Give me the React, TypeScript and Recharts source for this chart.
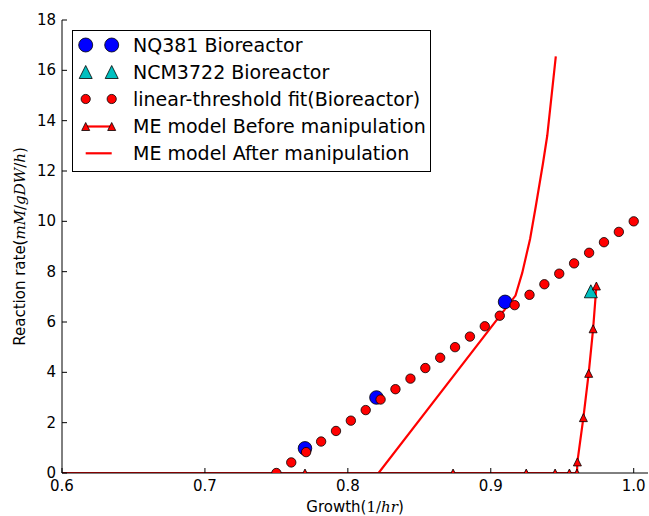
import React from 'react';
import { ComposedChart, Line, Scatter, XAxis, YAxis, Legend } from 'recharts';

// ---- data ----
const xTicks = [0.6, 0.7, 0.8, 0.9, 1.0];
const xTickLabels = ['0.6', '0.7', '0.8', '0.9', '1.0'];
const yTicks = [0, 2, 4, 6, 8, 10, 12, 14, 16, 18];
const yTickLabels = ['0', '2', '4', '6', '8', '10', '12', '14', '16', '18'];

const nq381X = [0.77, 0.82, 0.91];
const nq381Y = [0.98, 3.0, 6.8];

const ncmX = [0.97];
const ncmY = [7.22];

const fitX = [0.75, 0.7604, 0.7708, 0.7813, 0.7917, 0.8021, 0.8125, 0.8229, 0.8333, 0.8438, 0.8542, 0.8646, 0.875,
  0.8854, 0.8958, 0.9063, 0.9167, 0.9271, 0.9375, 0.9479, 0.9583, 0.9688, 0.9792, 0.9896, 1.0];
const fitY = [0, 0.42, 0.83, 1.25, 1.67, 2.08, 2.5, 2.92, 3.33, 3.75, 4.17, 4.58, 5.0,
  5.42, 5.83, 6.25, 6.67, 7.08, 7.5, 7.92, 8.33, 8.75, 9.17, 9.58, 10.0];

const beforeX = [0.77, 0.8736, 0.9248, 0.945, 0.955, 0.9603, 0.9606, 0.9648, 0.9685, 0.9716, 0.9739];
const beforeY = [0, 0, 0, 0, 0, 0, 0.44, 2.2, 3.96, 5.73, 7.43];

const afterX = [0.6, 0.8215, 0.9173, 0.922, 0.9275, 0.9315, 0.9365, 0.9395, 0.9455];
const afterY = [0, 0, 7.05, 7.95, 9.3, 10.6, 12.3, 13.4, 16.55];

const legendLabels = [
  'NQ381 Bioreactor',
  'NCM3722 Bioreactor',
  'linear-threshold fit(Bioreactor)',
  'ME model Before manipulation',
  'ME model After manipulation',
];

const zip = (xs: number[], ys: number[]) => xs.map((x, i) => ({ x, y: ys[i] }));
const nq381Data = zip(nq381X, nq381Y);
const ncmData = zip(ncmX, ncmY);
const fitData = zip(fitX, fitY);
const beforeData = zip(beforeX, beforeY);
const afterData = zip(afterX, afterY);

const RED = '#ff0000';
const BLUE = '#0000ff';
const CYAN = '#00bfbf';
const FONT = '"DejaVu Sans", sans-serif';
const MATH = '"DejaVu Serif", "Liberation Serif", serif';

const tri = (cx: number, cy: number, s: number) => {
  const h = s / 2;
  return `M${cx},${cy - h} L${cx + h},${cy + h} L${cx - h},${cy + h} Z`;
};

const labelFor = (vals: number[], labels: string[], v: number) => {
  const i = vals.findIndex((t) => Math.abs(t - v) < 1e-9);
  return i >= 0 ? labels[i] : String(v);
};

const BottomTick = (p: any) => (
  <g>
    <line x1={p.x} y1={p.y} x2={p.x} y2={p.y - 5} stroke="#000" strokeWidth={1} />
    <text x={p.x} y={p.y + 18} textAnchor="middle" fontFamily={FONT} fontSize={15} fill="#000">
      {labelFor(xTicks, xTickLabels, p.payload.value)}
    </text>
  </g>
);
const TopTick = (p: any) => (
  <line x1={p.x} y1={p.y} x2={p.x} y2={p.y + 5} stroke="#000" strokeWidth={1} />
);
const LeftTick = (p: any) => (
  <g>
    <line x1={p.x} y1={p.y} x2={p.x + 5} y2={p.y} stroke="#000" strokeWidth={1} />
    <text x={p.x - 6} y={p.y + 5} textAnchor="end" fontFamily={FONT} fontSize={15} fill="#000">
      {labelFor(yTicks, yTickLabels, p.payload.value)}
    </text>
  </g>
);
const RightTick = (p: any) => (
  <line x1={p.x} y1={p.y} x2={p.x - 5} y2={p.y} stroke="#000" strokeWidth={1} />
);

const XLabel = (props: any) => {
  const vb = props.viewBox || { x: 62, y: 473, width: 586, height: 43 };
  return (
    <text x={vb.x + vb.width / 2} y={vb.y + 39} textAnchor="middle" fontFamily={FONT} fontSize={15} fill="#000">
      <tspan>Growth(</tspan>
      <tspan fontFamily={MATH}>1/</tspan>
      <tspan fontFamily={MATH} fontStyle="italic">hr</tspan>
      <tspan>)</tspan>
    </text>
  );
};

const YLabel = (props: any) => {
  const vb = props.viewBox || { x: 0, y: 20, width: 62, height: 453 };
  const cx = vb.x + 25;
  const cy = vb.y + vb.height / 2;
  return (
    <text x={cx} y={cy} transform={`rotate(-90 ${cx} ${cy})`} textAnchor="middle" fontFamily={FONT} fontSize={15} fill="#000">
      <tspan>Reaction rate(</tspan>
      <tspan fontFamily={MATH} fontStyle="italic">mM</tspan>
      <tspan fontFamily={MATH}>/</tspan>
      <tspan fontFamily={MATH} fontStyle="italic">gDW</tspan>
      <tspan fontFamily={MATH}>/</tspan>
      <tspan fontFamily={MATH} fontStyle="italic">h</tspan>
      <tspan>)</tspan>
    </text>
  );
};

const LegendBox = () => {
  const rows = [15, 42, 69, 96.5, 123.3];
  const m1 = 13.7;
  const m2 = 39.7;
  const tx = 61;
  return (
    <svg width={360} height={143} style={{ display: 'block' }}>
      <rect x={0.5} y={0.5} width={358} height={141} fill="#fff" stroke="#000" strokeWidth={1} />
      <circle cx={m1} cy={rows[0]} r={7} fill={BLUE} stroke="#000" strokeWidth={0.8} />
      <circle cx={m2} cy={rows[0]} r={7} fill={BLUE} stroke="#000" strokeWidth={0.8} />
      <path d={tri(m1, rows[1], 13)} fill={CYAN} stroke="#000" strokeWidth={0.8} />
      <path d={tri(m2, rows[1], 13)} fill={CYAN} stroke="#000" strokeWidth={0.8} />
      <circle cx={m1} cy={rows[2]} r={4.6} fill={RED} stroke="#000" strokeWidth={0.8} />
      <circle cx={m2} cy={rows[2]} r={4.6} fill={RED} stroke="#000" strokeWidth={0.8} />
      <line x1={m1} y1={rows[3]} x2={m2} y2={rows[3]} stroke={RED} strokeWidth={2.2} />
      <path d={tri(m1, rows[3], 8)} fill={RED} stroke="#000" strokeWidth={0.8} />
      <path d={tri(m2, rows[3], 8)} fill={RED} stroke="#000" strokeWidth={0.8} />
      <line x1={m1} y1={rows[4]} x2={m2} y2={rows[4]} stroke={RED} strokeWidth={2.2} />
      {legendLabels.map((t, i) => (
        <text key={t} x={tx} y={rows[i] + 6.8} fontFamily={FONT} fontSize={19} fill="#000">{t}</text>
      ))}
    </svg>
  );
};

export default function App() {
  return (
    <div style={{ position: 'absolute', left: 0, top: 0, width: 649, height: 516, background: '#fff' }}>
      <ComposedChart width={649} height={516} margin={{ top: 20, right: 1, bottom: 0, left: 0 }}>
        <XAxis
          xAxisId={0}
          dataKey="x"
          type="number"
          domain={[0.6, 1.01]}
          allowDataOverflow
          ticks={xTicks}
          interval={0}
          height={43}
          tickSize={0}
          tickMargin={0}
          tickLine={false}
          tick={<BottomTick />}
          axisLine={{ stroke: '#000', strokeWidth: 1 }}
          label={{ content: (p: any) => <XLabel {...p} /> }}
        />
        <XAxis
          xAxisId="top"
          orientation="top"
          dataKey="x"
          type="number"
          domain={[0.6, 1.01]}
          allowDataOverflow
          ticks={xTicks}
          interval={0}
          height={0}
          tickSize={0}
          tickMargin={0}
          tickLine={false}
          tick={<TopTick />}
          axisLine={{ stroke: '#000', strokeWidth: 1 }}
        />
        <YAxis
          yAxisId={0}
          type="number"
          domain={[0, 18]}
          allowDataOverflow
          ticks={yTicks}
          interval={0}
          width={62}
          tickSize={0}
          tickMargin={0}
          tickLine={false}
          tick={<LeftTick />}
          axisLine={{ stroke: '#000', strokeWidth: 1 }}
          label={{ content: (p: any) => <YLabel {...p} /> }}
        />
        <YAxis
          yAxisId="right"
          orientation="right"
          type="number"
          domain={[0, 18]}
          allowDataOverflow
          ticks={yTicks}
          interval={0}
          width={0}
          tickSize={0}
          tickMargin={0}
          tickLine={false}
          tick={<RightTick />}
          axisLine={{ stroke: '#000', strokeWidth: 1 }}
        />
        <Scatter
          name="NQ381 Bioreactor"
          data={nq381Data}
          dataKey="y"
          isAnimationActive={false}
          shape={(p: any) => <circle cx={p.cx} cy={p.cy} r={6.8} fill={BLUE} stroke="#000" strokeWidth={0.8} />}
        />
        <Scatter
          name="NCM3722 Bioreactor"
          data={ncmData}
          dataKey="y"
          isAnimationActive={false}
          shape={(p: any) => <path d={tri(p.cx, p.cy, 13)} fill={CYAN} stroke="#000" strokeWidth={0.8} />}
        />
        <Scatter
          name="linear-threshold fit(Bioreactor)"
          data={fitData}
          dataKey="y"
          isAnimationActive={false}
          shape={(p: any) => <circle cx={p.cx} cy={p.cy} r={4.7} fill={RED} stroke="#000" strokeWidth={0.8} />}
        />
        <Line
          name="ME model Before manipulation"
          data={beforeData}
          dataKey="y"
          type="linear"
          stroke={RED}
          strokeWidth={2.2}
          isAnimationActive={false}
          dot={(p: any) => <path key={`b${p.index}`} d={tri(p.cx, p.cy, 8)} fill={RED} stroke="#000" strokeWidth={0.8} />}
          activeDot={false}
        />
        <Line
          name="ME model After manipulation"
          data={afterData}
          dataKey="y"
          type="linear"
          stroke={RED}
          strokeWidth={2.2}
          dot={false}
          activeDot={false}
          isAnimationActive={false}
        />
        <Legend
          layout="vertical"
          align="center"
          verticalAlign="middle"
          wrapperStyle={{ left: 72, top: 30, width: 360, height: 143 }}
          content={() => <LegendBox />}
        />
      </ComposedChart>
    </div>
  );
}
